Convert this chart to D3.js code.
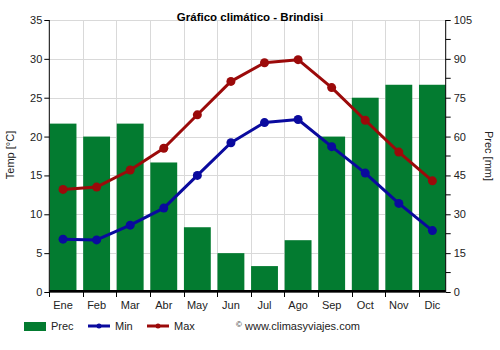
<!DOCTYPE html>
<html>
<head>
<meta charset="utf-8">
<script src="https://cdn.jsdelivr.net/npm/d3@7"></script>
<style>
  html, body { margin: 0; padding: 0; background: #fff; }
  svg { display: block; font-family: "Liberation Sans", Arial, sans-serif; }
</style>
</head>
<body>
<svg id="chart" width="500" height="350"></svg>
<script>
// Monthly climate data for Brindisi
const months = ["Ene", "Feb", "Mar", "Abr", "May", "Jun", "Jul", "Ago", "Sep", "Oct", "Nov", "Dic"];
const precip = [65, 60, 65, 50, 25, 15, 10, 20, 60, 75, 80, 80];
const tempMin = [6.8, 6.7, 8.6, 10.8, 15.0, 19.2, 21.8, 22.2, 18.7, 15.3, 11.4, 7.9];
const tempMax = [13.2, 13.5, 15.7, 18.5, 22.8, 27.1, 29.5, 29.9, 26.3, 22.1, 18.0, 14.3];
const tempTicks = [0, 5, 10, 15, 20, 25, 30, 35];
const precTicks = [0, 15, 30, 45, 60, 75, 90, 105];

const svg = d3.select("#chart");
const pLeft = 49.3, pRight = 445.7, pTop = 20, pBottom = 292;
const step = 33.58;

const x = d3.scaleBand().domain(months).range([pLeft, pLeft + step * months.length]).paddingInner(0).paddingOuter(0);
const barW = x.bandwidth() * 0.8;
const cx = m => x(m) + barW / 2 + 0.3;

const yT = d3.scaleLinear().domain([0, 35]).range([pBottom, pTop]);
const yP = d3.scaleLinear().domain([0, 105]).range([pBottom, pTop]);

const plot = svg.append("g");
plot.append("clipPath").attr("id", "clip")
  .append("rect").attr("x", pLeft).attr("y", pTop - 10).attr("width", pRight - pLeft).attr("height", pBottom - pTop + 10);

// grid
const grid = plot.append("g").attr("stroke", "#d9d9d9").attr("stroke-width", 1);
tempTicks.forEach(t => {
  grid.append("line").attr("x1", pLeft).attr("x2", pRight).attr("y1", Math.round(yT(t)) + 0.5).attr("y2", Math.round(yT(t)) + 0.5);
});
months.forEach((m, i) => {
  if (i === 0) return;
  grid.append("line").attr("x1", Math.round(x(m)) + 0.5).attr("x2", Math.round(x(m)) + 0.5).attr("y1", pTop).attr("y2", pBottom);
});

// title
svg.append("text").attr("x", 250).attr("y", 21).attr("text-anchor", "middle")
  .attr("font-size", 11.5).attr("font-weight", "bold").attr("fill", "#000")
  .text("Gráfico climático - Brindisi");

// bottom thick baseline
plot.append("rect").attr("x", pLeft).attr("y", 290).attr("width", pRight - pLeft).attr("height", 2.6).attr("fill", "#000");

// precipitation bars
plot.append("g").attr("clip-path", "url(#clip)").selectAll("rect").data(precip).join("rect")
  .attr("x", (d, i) => x(months[i]) + 0.3)
  .attr("width", barW)
  .attr("y", d => yP(d))
  .attr("height", d => pBottom - 2 - yP(d))
  .attr("fill", "#037b30");

// temperature lines
function series(vals, color) {
  const line = d3.line().x((d, i) => cx(months[i])).y(d => yT(d));
  plot.append("path").datum(vals).attr("d", line).attr("fill", "none")
    .attr("stroke", color).attr("stroke-width", 3).attr("stroke-linejoin", "round");
  plot.append("g").selectAll("circle").data(vals).join("circle")
    .attr("cx", (d, i) => cx(months[i])).attr("cy", d => yT(d)).attr("r", 4.5).attr("fill", color);
}
series(tempMin, "#0a0a9e");
series(tempMax, "#9b0a0a");

// axes
const axisColor = "#000";
const labelColor = "#222";
const fs = 11;

const lAxis = svg.append("g").attr("transform", `translate(${pLeft},0)`)
  .call(d3.axisLeft(yT).tickValues(tempTicks).tickSize(5).tickPadding(2));
const rAxis = svg.append("g").attr("transform", `translate(${pRight},0)`)
  .call(d3.axisRight(yP).tickValues(precTicks).tickSize(5).tickPadding(3));
// minor ticks on the precipitation axis
svg.append("g").selectAll("line").data(precTicks.slice(0, -1).map(v => v + 7.5)).join("line")
  .attr("x1", pRight).attr("x2", pRight + 5).attr("y1", d => yP(d)).attr("y2", d => yP(d)).attr("stroke", axisColor);

const bAxis = svg.append("g").attr("transform", `translate(0,${pBottom})`)
  .call(d3.axisBottom(x).tickSize(0).tickPadding(9));
// ticks at band boundaries
svg.append("g").selectAll("line").data(months).join("line")
  .attr("x1", m => Math.round(x(m)) + 0.5).attr("x2", m => Math.round(x(m)) + 0.5)
  .attr("y1", pBottom).attr("y2", pBottom + 5).attr("stroke", axisColor);
// shift month labels to bar centres
bAxis.selectAll(".tick").attr("transform", d => `translate(${cx(d)},0)`);

[lAxis, rAxis, bAxis].forEach(a => {
  a.select(".domain").attr("stroke", axisColor);
  a.selectAll("text").attr("font-size", fs).attr("fill", labelColor).attr("font-family", "Liberation Sans, Arial, sans-serif");
  a.selectAll(".tick line").attr("stroke", axisColor);
});
bAxis.select(".domain").remove();
lAxis.select(".domain").attr("d", `M0,${pTop}V${pBottom}`);
rAxis.select(".domain").attr("d", `M0,${pTop}V${pBottom}`);

// axis titles
svg.append("text").attr("transform", "translate(14,155) rotate(-90)").attr("text-anchor", "middle")
  .attr("font-size", fs).attr("fill", labelColor).text("Temp [°C]");
svg.append("text").attr("transform", "translate(485,156) rotate(90)").attr("text-anchor", "middle")
  .attr("font-size", fs).attr("fill", labelColor).text("Prec [mm]");

// legend
const lg = svg.append("g").attr("font-size", fs).attr("fill", labelColor);
lg.append("rect").attr("x", 24).attr("y", 322).attr("width", 22).attr("height", 9).attr("fill", "#037b30");
lg.append("text").attr("x", 51).attr("y", 330).text("Prec");
lg.append("line").attr("x1", 88).attr("x2", 110).attr("y1", 326).attr("y2", 326).attr("stroke", "#0a0a9e").attr("stroke-width", 3);
lg.append("circle").attr("cx", 99).attr("cy", 326).attr("r", 2.5).attr("fill", "#0a0a9e");
lg.append("text").attr("x", 115).attr("y", 330).text("Min");
lg.append("line").attr("x1", 147).attr("x2", 169).attr("y1", 326).attr("y2", 326).attr("stroke", "#9b0a0a").attr("stroke-width", 3);
lg.append("circle").attr("cx", 158).attr("cy", 326).attr("r", 2.5).attr("fill", "#9b0a0a");
lg.append("text").attr("x", 174).attr("y", 330).text("Max");
lg.append("text").attr("x", 236).attr("y", 327).attr("font-size", 8).text("©");
lg.append("text").attr("x", 245).attr("y", 330).text("www.climasyviajes.com");
</script>
</body>
</html>
